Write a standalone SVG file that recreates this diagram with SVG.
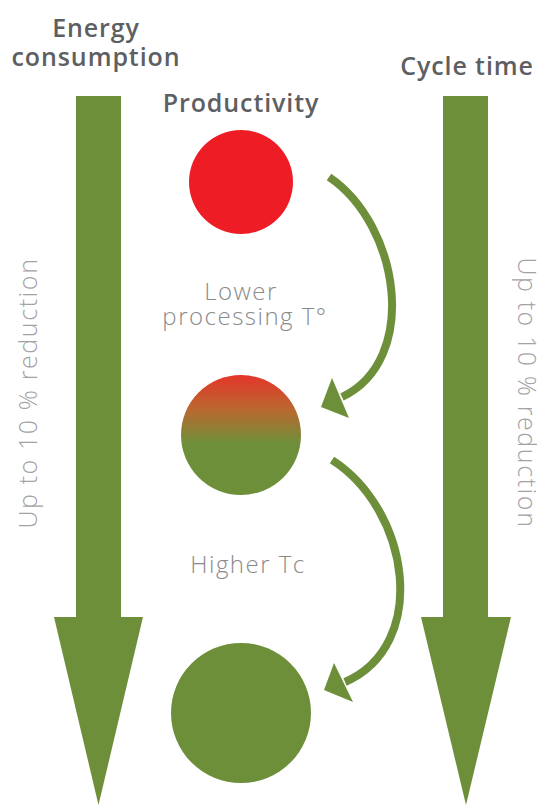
<svg xmlns="http://www.w3.org/2000/svg" width="537" height="805" viewBox="0 0 537 805">
<defs>
<linearGradient id="mix" x1="0" y1="0" x2="0" y2="1">
<stop offset="0" stop-color="#e4352a"/>
<stop offset="0.3" stop-color="#b86a30"/>
<stop offset="0.57" stop-color="#6e8f3a"/>
<stop offset="1" stop-color="#6e8f3a"/>
</linearGradient>
<style>
.big{fill:#6e8f3a}
.head{font-family:"Open Sans","Lato",sans-serif;font-weight:600;font-size:25px;letter-spacing:0.9px;fill:#5e5f62;text-anchor:middle}
.lite{font-family:"Open Sans","Lato",sans-serif;font-weight:300;font-size:24px;letter-spacing:1.5px;fill:#8a8a8c;text-anchor:middle}
.rot{font-family:"Open Sans","Lato",sans-serif;font-weight:300;font-size:25px;letter-spacing:1.6px;fill:#a3a3a5;text-anchor:middle}
.curve{fill:none;stroke:#6e8f3a;stroke-width:8}
</style>
</defs>
<rect width="537" height="805" fill="#ffffff"/>
<g id="energy-arrow">
<polygon class="big" points="76,96 121,96 121,617 143,617 98.5,805 54,617 76,617"/>
<text class="head" x="96" y="37">Energy</text>
<text class="head" x="96" y="66">consumption</text>
<text class="rot" transform="translate(37,393) rotate(-90)">Up to 10 % reduction</text>
</g>
<g id="cycle-arrow">
<polygon class="big" points="443,96 488,96 488,617 511,617 466,805 421,617 443,617"/>
<text class="head" x="467" y="75">Cycle time</text>
<text class="rot" transform="translate(518,393) rotate(90)">Up to 10 % reduction</text>
</g>
<g id="productivity-label">
<text class="head" x="241" y="112">Productivity</text>
</g>
<g id="node-red">
<circle cx="241" cy="182" r="52" fill="#ee1d25"/>
</g>
<g id="node-mixed">
<circle cx="241" cy="435" r="60" fill="url(#mix)"/>
</g>
<g id="node-green">
<circle cx="241" cy="713" r="70" fill="#6e8f3a"/>
</g>
<g id="labels">
<text class="lite" x="241" y="300">Lower</text>
<text class="lite" x="245" y="325">processing T°</text>
<text class="lite" x="248" y="573">Higher Tc</text>
</g>
<g id="connectors">
<path class="curve" d="M329,177 C400,225 420,360 342,397"/>
<polygon class="big" points="321,407 332,378 349,418"/>
<path class="curve" d="M332,460 C410,510 430,645 345,682"/>
<polygon class="big" points="324,690 334,663 353,702"/>
</g>
</svg>
